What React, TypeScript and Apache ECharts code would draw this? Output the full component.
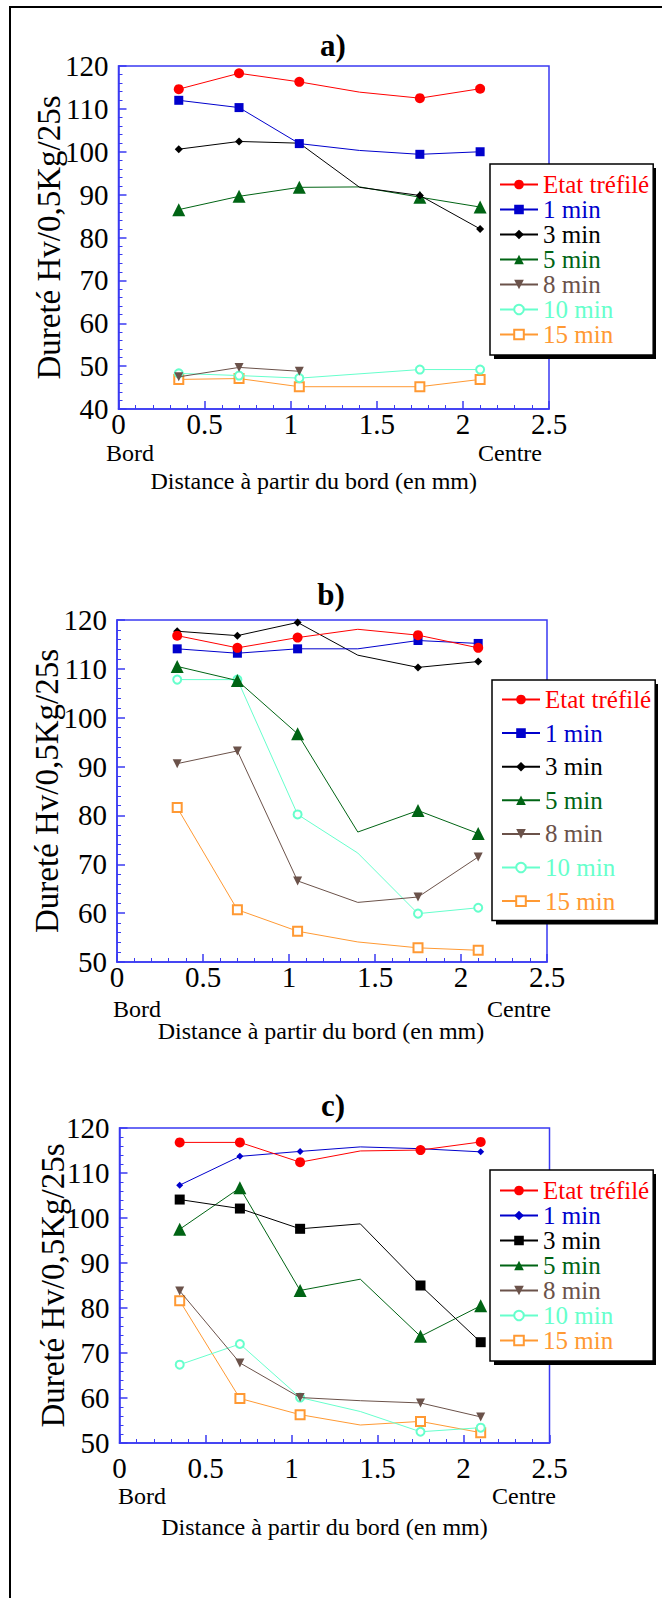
import React, { useEffect, useRef } from 'react';
import * as echarts from 'echarts';

// ---------- DATA ----------
const xPositions = [0.35, 0.7, 1.05, 1.4, 1.75, 2.1];
const unmarkedX = 1.4; // intermediate point drawn without marker
const seriesNames = ['Etat tréfilé', '1 min', '3 min', '5 min', '8 min', '10 min', '15 min'];
const yAxisTitle = 'Dureté Hv/0,5Kg/25s';
const xAxisTitle = 'Distance à partir du bord (en mm)';
const panelTitles = ['a)', 'b)', 'c)'];
const edgeLabels = ['Bord', 'Centre'];

// panel a
const aEtat = [114.6, 118.3, 116.3, 113.9, 112.5, 114.7];
const a1min = [112.0, 110.3, 101.9, 100.3, 99.4, 100.0];
const a3min = [100.6, 102.4, 102.0, 91.7, 89.8, 82.0];
const a5min = [86.5, 89.6, 91.7, 91.8, 89.4, 87.1];
const a8min = [47.5, 49.7, 48.8, null, null, null];
const a10min = [48.3, 47.8, 47.2, null, 49.2, 49.2];
const a15min = [46.9, 47.1, 45.2, null, 45.2, 46.9];

// panel b
const bEtat = [116.8, 114.3, 116.4, 118.1, 116.9, 114.3];
const b1min = [114.1, 113.2, 114.1, 114.1, 115.8, 115.2];
const b3min = [117.7, 116.8, 119.5, 112.8, 110.3, 111.5];
const b5min = [110.5, 107.6, 96.7, 76.6, 81.0, 76.3];
const b8min = [90.6, 93.2, 66.6, 62.2, 63.3, 71.5];
const b10min = [107.8, 107.8, 80.2, 72.3, 59.9, 61.1];
const b15min = [81.6, 60.7, 56.3, 54.1, 52.9, 52.4];

// panel c
const cEtat = [116.8, 116.8, 112.4, 114.9, 115.1, 116.9];
const c1min = [107.3, 113.7, 114.8, 115.8, 115.4, 114.7];
const c3min = [104.1, 102.1, 97.6, 98.7, 85.0, 72.4];
const c5min = [97.5, 106.7, 83.9, 86.4, 73.7, 80.5];
const c8min = [83.8, 67.8, 60.1, 59.4, 58.9, 55.8];
const c10min = [67.4, 72.0, 60.1, 57.0, 52.5, 53.4];
const c15min = [81.6, 59.9, 56.3, 54.0, 54.8, 52.3];

const yMinA = 40;
const yMinBC = 50;
const yMax = 120;

// ---------- STYLE ----------
const FONT = 'Liberation Serif';
const AXIS = '#3a3af2';
const colors = ['#ff0000', '#0000cc', '#000000', '#006414', '#6b524a', '#66ffcc', '#ff9933'];

type Sym = { symbol: string; size: number; rotate?: number; empty?: boolean };
const symA: Sym[] = [
  { symbol: 'circle', size: 10 },
  { symbol: 'rect', size: 9 },
  { symbol: 'diamond', size: 8 },
  { symbol: 'triangle', size: 13 },
  { symbol: 'triangle', size: 9, rotate: 180 },
  { symbol: 'emptyCircle', size: 8, empty: true },
  { symbol: 'emptyRect', size: 9, empty: true },
];
const symC: Sym[] = [
  { symbol: 'circle', size: 10 },
  { symbol: 'diamond', size: 7 },
  { symbol: 'rect', size: 10 },
  { symbol: 'triangle', size: 13 },
  { symbol: 'triangle', size: 9, rotate: 180 },
  { symbol: 'emptyCircle', size: 8, empty: true },
  { symbol: 'emptyRect', size: 9, empty: true },
];

type Panel = {
  top: number;
  height: number;
  values: (number | null)[][];
  syms: Sym[];
  yMin: number;
  grid: { left: number; top: number; width: number; height: number };
  titleXY: [number, number];
  legend: { left: number; top: number; gap: number; padV: number };
  bord: [number, number];
  centre: [number, number];
  xLabelMargin: number;
  xNameGap: number;
  xNameShift: number;
  yNameGap: number;
};

const LEG_FS = 25;
const LEG_ITEM_H = 25;
const LEG_W = 162;

const panels: Panel[] = [
  {
    top: 0, height: 520,
    values: [aEtat, a1min, a3min, a5min, a8min, a10min, a15min],
    syms: symA, yMin: yMinA,
    grid: { left: 118.5, top: 66, width: 430.5, height: 343 },
    titleXY: [333, 45],
    legend: { left: 490, top: 164, gap: 0, padV: 8 },
    bord: [130, 453], centre: [510, 453],
    xLabelMargin: 0,
    xNameGap: 60, xNameShift: -20, yNameGap: 53,
  },
  {
    top: 500, height: 570,
    values: [bEtat, b1min, b3min, b5min, b8min, b10min, b15min],
    syms: symA, yMin: yMinBC,
    grid: { left: 117, top: 120, width: 430, height: 342 },
    titleXY: [331, 94],
    legend: { left: 492, top: 180, gap: 8.6, padV: 7 },
    bord: [137, 509], centre: [519, 509],
    xLabelMargin: 0,
    xNameGap: 57, xNameShift: -11, yNameGap: 54,
  },
  {
    top: 1030, height: 568,
    values: [cEtat, c1min, c3min, c5min, c8min, c10min, c15min],
    syms: symC, yMin: yMinBC,
    grid: { left: 119.5, top: 98, width: 430, height: 315 },
    titleXY: [333, 75],
    legend: { left: 490, top: 140, gap: 0, padV: 8 },
    bord: [142, 466], centre: [524, 466],
    xLabelMargin: 10,
    xNameGap: 72, xNameShift: -10, yNameGap: 50,
  },
];

function buildOption(p: Panel, idx: number): any {
  const series = seriesNames.map((name, i) => {
    const vals = p.values[i];
    const data: any[] = [];
    xPositions.forEach((x, k) => {
      const v = vals[k];
      if (v === null || v === undefined) return;
      if (x === unmarkedX) data.push({ value: [x, v], symbol: 'none' });
      else data.push([x, v]);
    });
    const s = p.syms[i];
    return {
      type: 'line',
      name,
      data,
      symbol: s.symbol,
      symbolSize: s.size,
      symbolRotate: s.rotate || 0,
      showSymbol: true,
      lineStyle: { color: colors[i], width: 1 },
      itemStyle: { color: colors[i], borderColor: colors[i], borderWidth: s.empty ? 1 : 0 },
      emphasis: { disabled: true },
      z: 2 + (7 - i) * 0.01,
    };
  });

  const legendH = 2 * p.legend.padV + 7 * LEG_ITEM_H + 6 * p.legend.gap;

  const axisCommon = {
    axisLine: { show: true, onZero: false, lineStyle: { color: AXIS, width: 1.5 } },
    axisTick: { show: true, inside: true, length: 8, lineStyle: { color: AXIS, width: 1.5 } },
    minorTick: { show: true, splitNumber: 5, length: 4, lineStyle: { color: AXIS, width: 1 } },
    splitLine: { show: false },
    minorSplitLine: { show: false },
  };

  return {
    animation: false,
    backgroundColor: 'transparent',
    textStyle: { fontFamily: FONT },
    grid: {
      ...p.grid,
      show: true,
      borderColor: AXIS,
      borderWidth: 1.5,
      backgroundColor: 'transparent',
      outerBoundsMode: 'none',
    },
    xAxis: {
      type: 'value',
      min: 0,
      max: 2.5,
      interval: 0.5,
      ...axisCommon,
      axisLabel: { color: '#000', fontFamily: FONT, fontSize: 29, margin: p.xLabelMargin },
      name: xAxisTitle,
      nameLocation: 'middle',
      nameGap: p.xNameGap,
      nameMoveOverlap: false,
      nameTextStyle: {
        color: '#000', fontFamily: FONT, fontSize: 24,
        padding: [0, Math.max(0, -2 * p.xNameShift), 0, Math.max(0, 2 * p.xNameShift)],
      },
    },
    yAxis: {
      type: 'value',
      min: p.yMin,
      max: yMax,
      interval: 10,
      ...axisCommon,
      axisLabel: { color: '#000', fontFamily: FONT, fontSize: 29, margin: 10 },
      name: yAxisTitle,
      nameLocation: 'middle',
      nameRotate: 90,
      nameGap: p.yNameGap,
      nameMoveOverlap: false,
      nameTextStyle: { color: '#000', fontFamily: FONT, fontSize: 33 },
    },
    legend: {
      orient: 'vertical',
      left: p.legend.left,
      top: p.legend.top,
      padding: [p.legend.padV, 4, p.legend.padV, 9],
      itemWidth: 38,
      itemHeight: 12,
      itemGap: p.legend.gap,
      backgroundColor: '#ffffff',
      borderColor: '#000000',
      borderWidth: 1.5,
      borderRadius: 0,
      selectedMode: false,
      z: 6,
      textStyle: { fontFamily: FONT, fontSize: LEG_FS },
      data: seriesNames.map((n, i) => ({
        name: n,
        textStyle: { color: colors[i], fontFamily: FONT, fontSize: LEG_FS },
      })),
    },
    graphic: [
      {
        type: 'rect',
        z: 5,
        shape: { x: p.legend.left + 4, y: p.legend.top + 4, width: LEG_W, height: legendH },
        style: { fill: '#000' },
        silent: true,
      },
      {
        type: 'text',
        x: p.titleXY[0],
        y: p.titleXY[1],
        style: {
          text: panelTitles[idx],
          fontFamily: FONT, fontSize: 31, fontWeight: 'bold',
          fill: '#000', textAlign: 'center', textVerticalAlign: 'middle',
        },
      },
      {
        type: 'text',
        x: p.bord[0],
        y: p.bord[1],
        style: {
          text: edgeLabels[0], fontFamily: FONT, fontSize: 24, fill: '#000',
          textAlign: 'center', textVerticalAlign: 'middle',
        },
      },
      {
        type: 'text',
        x: p.centre[0],
        y: p.centre[1],
        style: {
          text: edgeLabels[1], fontFamily: FONT, fontSize: 24, fill: '#000',
          textAlign: 'center', textVerticalAlign: 'middle',
        },
      },
    ],
    series,
  };
}

function PanelChart({ p, idx }: { p: Panel; idx: number }) {
  const ref = useRef<HTMLDivElement>(null);
  useEffect(() => {
    if (!ref.current) return;
    const chart = echarts.init(ref.current, undefined, { renderer: 'svg' });
    chart.setOption(buildOption(p, idx));
    return () => chart.dispose();
  }, [p, idx]);
  return (
    <div
      ref={ref}
      style={{ position: 'absolute', left: 0, top: p.top, width: 662, height: p.height }}
    />
  );
}

export default function App() {
  return (
    <div
      style={{
        position: 'absolute', left: 0, top: 0, width: 662, height: 1598,
        background: '#fff', overflow: 'hidden',
      }}
    >
      {panels.map((p, i) => (
        <PanelChart key={i} p={p} idx={i} />
      ))}
      <div
        style={{
          position: 'absolute', left: 9, top: 6, width: 651, height: 1590,
          borderTop: '2px solid #000', borderLeft: '2px solid #000', pointerEvents: 'none',
        }}
      />
    </div>
  );
}
